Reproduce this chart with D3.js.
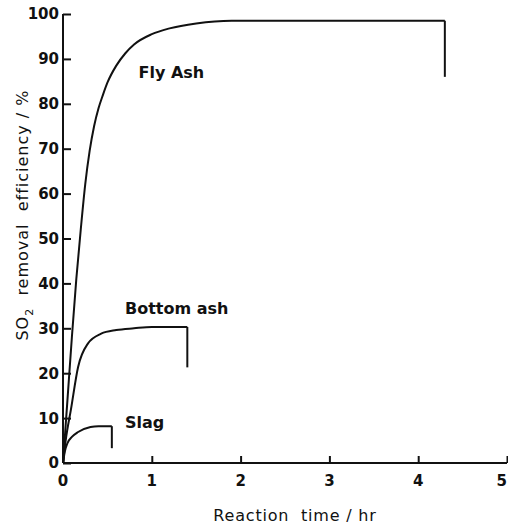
<!DOCTYPE html>
<html>
<head>
<meta charset="utf-8">
<script src="https://cdn.jsdelivr.net/npm/d3@7"></script>
<style>
    body { margin: 0; background: #fff; }
    svg text { font-family: "DejaVu Sans", sans-serif; fill: #111; }
</style>
</head>
<body>
<svg id="chart" width="508" height="527"></svg>
<script>
// Reaction time (hr) / SO2 removal efficiency (%)
var flyAshTime = [0, 0.05, 0.1, 0.15, 0.2, 0.25, 0.3, 0.35, 0.4, 0.45, 0.5, 0.6, 0.7, 0.8, 1.0, 1.2, 1.5, 1.9, 4.3];
var flyAshValue = [0, 14, 28, 41, 52, 62, 69.5, 75, 79, 82, 84.7, 88.5, 91.2, 93.2, 95.5, 96.8, 97.9, 98.5, 98.5];
var flyAshDrop = 86;

var bottomAshTime = [0, 0.03, 0.09, 0.17, 0.28, 0.43, 0.6, 0.8, 1.0, 1.4];
var bottomAshValue = [0, 5, 12, 21.4, 26.6, 28.8, 29.6, 30, 30.3, 30.3];
var bottomAshDrop = 21.3;

var slagTime = [0, 0.02, 0.05, 0.1, 0.17, 0.31, 0.4, 0.55];
var slagValue = [0, 2.5, 4.4, 5.8, 6.9, 8, 8.2, 8.2];
var slagDrop = 3.3;

var seriesNames = ["Fly Ash", "Bottom ash", "Slag"];
var xTicks = [0, 1, 2, 3, 4, 5];
var yTicks = [0, 10, 20, 30, 40, 50, 60, 70, 80, 90, 100];

var svg = d3.select("#chart");

var xScale = d3.scaleLinear().domain([0, 5]).range([63, 507]);
var yScale = d3.scaleLinear().domain([0, 100]).range([463, 14]);

/**
 * AXES
 * ticks point inward like the original plot
 */
var yAxis = svg.append("g")
    .attr("transform", "translate(" + xScale(0) + ",0)")
    .call(d3.axisRight(yScale).tickValues(yTicks).tickSize(8).tickFormat(""));
var xAxis = svg.append("g")
    .attr("transform", "translate(0," + yScale(0) + ")")
    .call(d3.axisTop(xScale).tickValues(xTicks).tickSize(7).tickFormat(""));

[yAxis, xAxis].forEach(ax => {
    ax.select(".domain").attr("stroke", "#111").attr("stroke-width", 2);
    ax.selectAll(".tick line").attr("stroke", "#111").attr("stroke-width", 2);
});
// outer ticks of the domain path are not wanted
yAxis.select(".domain").attr("d", "M0," + yScale(100) + "V" + yScale(0));
xAxis.select(".domain").attr("d", "M" + xScale(0) + ",0H" + xScale(5));

// tick labels
svg.append("g").selectAll("text")
    .data(yTicks)
    .join("text")
    .attr("x", xScale(0) - 4)
    .attr("y", d => yScale(d))
    .attr("dy", "0.36em")
    .attr("text-anchor", "end")
    .attr("font-size", 15)
    .attr("font-weight", "bold")
    .text(d => d);

// last label sits at the right edge, keep it inside the page
var xMax = xTicks[xTicks.length - 1];
svg.append("g").selectAll("text")
    .data(xTicks)
    .join("text")
    .attr("x", d => d === xMax ? xScale(d) : xScale(d))
    .attr("y", 486)
    .attr("text-anchor", d => d === xMax ? "end" : "middle")
    .attr("font-size", 15)
    .attr("font-weight", "bold")
    .text(d => d);

// axis titles
svg.append("text")
    .attr("x", 295)
    .attr("y", 521)
    .attr("text-anchor", "middle")
    .attr("font-size", 16)
    .attr("letter-spacing", 0.8)
    .attr("xml:space", "preserve")
    .text("Reaction  time / hr");

var yTitle = svg.append("text")
    .attr("transform", "translate(28,215) rotate(-90)")
    .attr("text-anchor", "middle")
    .attr("font-size", 16)
    .attr("letter-spacing", 1)
    .attr("xml:space", "preserve");
yTitle.append("tspan").text("SO");
yTitle.append("tspan").attr("font-size", 11).attr("dy", 5).text("2");
yTitle.append("tspan").attr("dy", -5).text("  removal  efficiency / %");

/**
 * CURVES
 * smooth rise + plateau, then a vertical drop at the end of each run
 */
var line = d3.line()
    .x(d => xScale(d[0]))
    .y(d => yScale(d[1]))
    .curve(d3.curveMonotoneX);

var series = [
    {name: seriesNames[0], t: flyAshTime, v: flyAshValue, drop: flyAshDrop, label: [1.22, 85.7]},
    {name: seriesNames[1], t: bottomAshTime, v: bottomAshValue, drop: bottomAshDrop, label: [1.28, 33.2]},
    {name: seriesNames[2], t: slagTime, v: slagValue, drop: slagDrop, label: [0.92, 7.8]}
];

series.forEach(s => {
    var pts = s.t.map((t, i) => [t, s.v[i]]);
    var last = pts[pts.length - 1];

    svg.append("path")
        .attr("d", line(pts))
        .attr("fill", "none")
        .attr("stroke", "#111")
        .attr("stroke-width", 2);

    svg.append("line")
        .attr("x1", xScale(last[0]))
        .attr("x2", xScale(last[0]))
        .attr("y1", yScale(last[1]))
        .attr("y2", yScale(s.drop))
        .attr("stroke", "#111")
        .attr("stroke-width", 2);

    svg.append("text")
        .attr("x", xScale(s.label[0]))
        .attr("y", yScale(s.label[1]))
        .attr("text-anchor", "middle")
        .attr("font-size", 16)
        .attr("font-weight", "bold")
        .text(s.name);
});
</script>
</body>
</html>
